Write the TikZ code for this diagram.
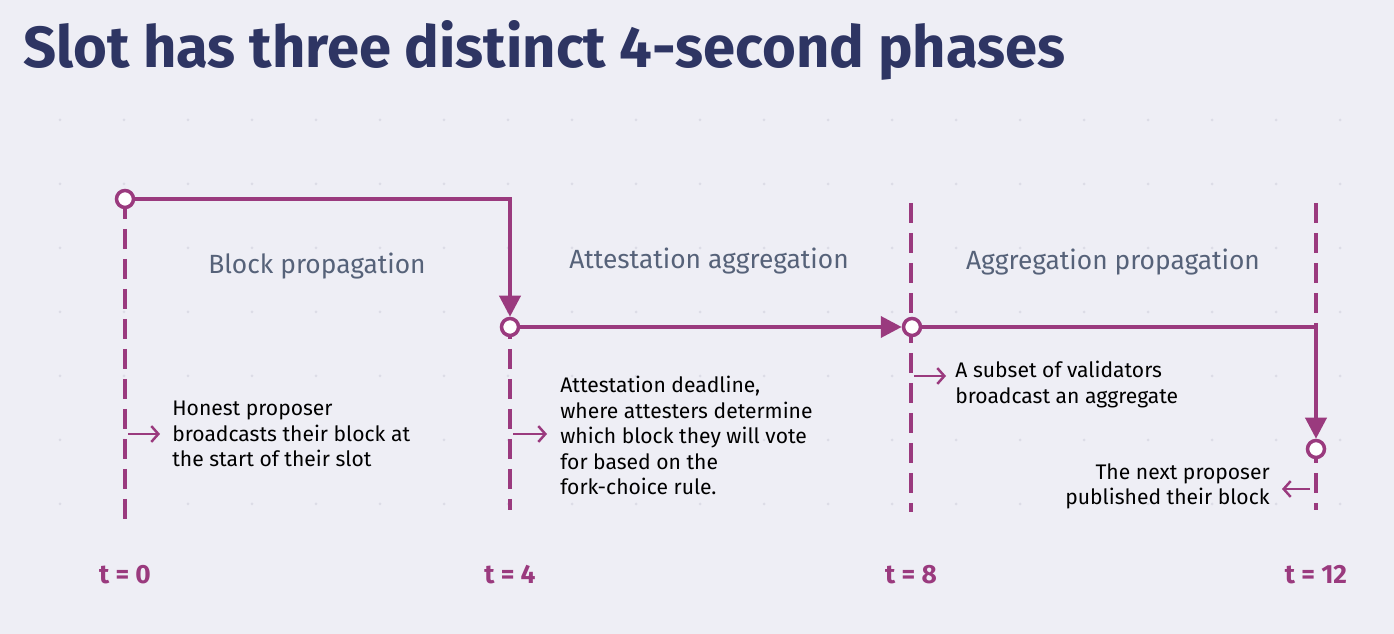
\documentclass[tikz,border=0pt]{standalone}
\usepackage{fontspec}
\setmainfont{Fira Sans}
\usetikzlibrary{arrows.meta,positioning}
\definecolor{slotbg}{HTML}{EEEEF5}
\definecolor{slotpurple}{HTML}{9A3A7E}
\definecolor{slotnavy}{HTML}{2E3563}
\definecolor{slotgrey}{HTML}{566279}
\definecolor{slotdot}{HTML}{DCDCE6}
\tikzset{
  tick/.style={slotpurple, line width=2.2pt, dash pattern=on 0.4cm off 0.2cm},
  flow/.style={slotpurple, line width=2.2pt},
  mark dot/.style={circle, draw=slotpurple, fill=white, line width=2pt, inner sep=0pt, minimum size=0.34cm},
  phase/.style={text=slotgrey, font=\fontsize{15}{18}\selectfont},
  note/.style={align=left, font=\fontsize{12}{14.5}\selectfont, inner sep=0pt},
  time/.style={text=slotpurple, font=\bfseries\fontsize{15}{18}\selectfont},
  hint/.style={slotpurple, line width=1.4pt, -{Straight Barb[length=4pt,width=9pt]}}
}
\begin{document}
\begin{tikzpicture}[x=0.02cm, y=-0.02cm]
\useasboundingbox (0,0) rectangle (1394,634);
\fill[slotbg] (0,0) rectangle (1394,634);
% faint dot grid
\foreach \i in {0,...,20} \foreach \j in {2,...,8}
  \fill[slotdot] (\i*64+60,\j*64-8) circle (1.5);
\node[anchor=west, text=slotnavy, font=\bfseries\fontsize{33}{38}\selectfont] (title) at (17,50) {Slot has three distinct 4-second phases};
% time ticks
\foreach \x/\n/\t/\b in {125/0/199/520, 510/4/199/510, 911/8/203/512, 1316/12/203/510} {
  \draw[tick] (\x,\t) -- (\x,\b);
  \node[time] (t\n) at (\x,575) {t = \n};
}
% marks
\node[mark dot] (m0) at (125,199) {};
\node[mark dot] (m4) at (510,327) {};
\node[mark dot] (m8) at (912,327) {};
\node[mark dot] (m12) at (1316,449) {};
\coordinate (c1) at (510,199);
\coordinate (c2) at (1316,327);
\draw[flow, -{Triangle[length=0.42cm,width=0.42cm]}] (m0) -- (c1) -- (m4);
\draw[flow, -{Triangle[length=0.42cm,width=0.42cm]}] (m4) -- (m8);
\draw[flow, -{Triangle[length=0.42cm,width=0.42cm]}] (m8) -- (c2) -- (m12);
% phase labels
\node[phase] (p1) at (317,266) {Block propagation};
\node[phase] (p2) at (709,261) {Attestation aggregation};
\node[phase] (p3) at (1113,262) {Aggregation propagation};
% notes
\node[note, anchor=north west] (n0) at (172,401) {Honest proposer\\broadcasts their block at\\the start of their slot};
\node[note, anchor=north west] (n4) at (560,376) {Attestation deadline,\\where attesters determine\\which block they will vote\\for based on the\\fork-choice rule.};
\node[note, anchor=north west] (n8) at (955,361) {A subset of validators\\broadcast an aggregate};
\node[note, anchor=north east, align=right] (n12) at (1270,463) {The next proposer\\published their block};
\coordinate (h0) at (128,434); \coordinate (h4) at (513,434);
\coordinate (h8) at (914,376); \coordinate (h12) at (1310,489);
\draw[hint] (h0) -- ++(32,0);
\draw[hint] (h4) -- ++(34,0);
\draw[hint] (h8) -- ++(32,0);
\draw[hint] (h12) -- ++(-28,0);
\end{tikzpicture}
\end{document}
